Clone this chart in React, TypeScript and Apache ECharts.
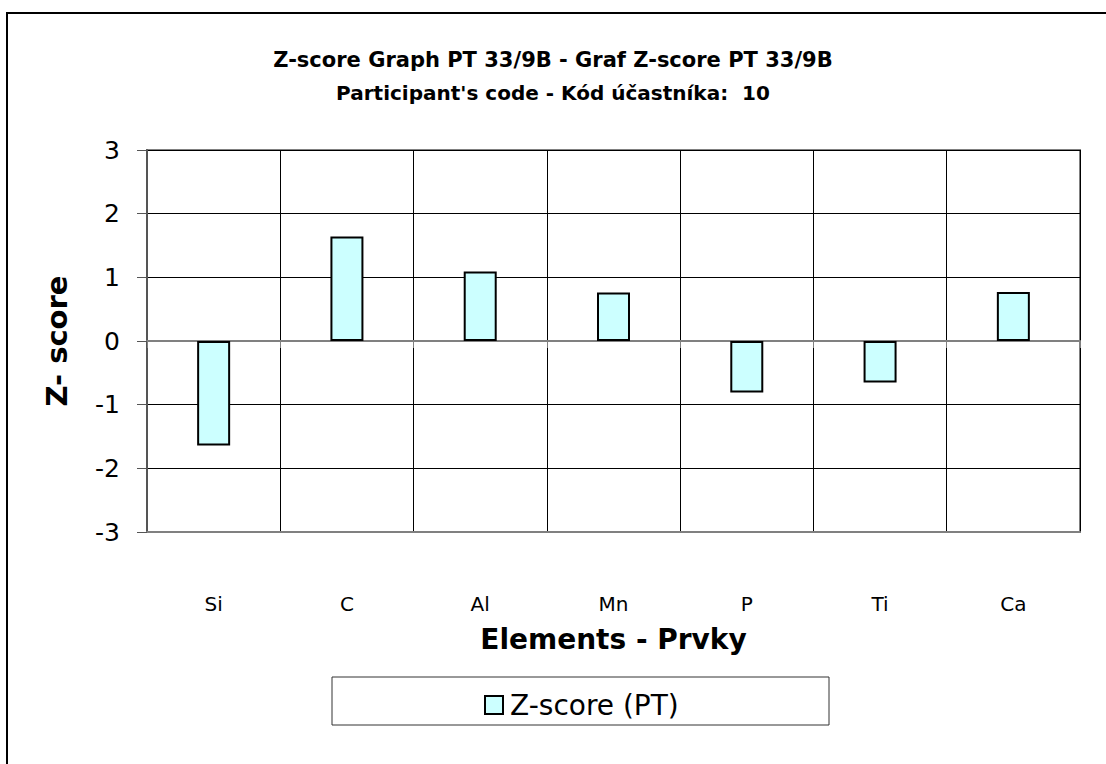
import React, { useEffect, useRef } from "react";
import * as echarts from "echarts";

const categories = ["Si", "C", "Al", "Mn", "P", "Ti", "Ca"];
const zScores = [-1.64, 1.64, 1.09, 0.76, -0.81, -0.65, 0.77];
const seriesName = "Z-score (PT)";
const titleLines = ["Z-score Graph PT 33/9B - Graf Z-score PT 33/9B", "Participant's code - Kód účastníka:  10"];
const yAxisTitle = "Z- score";
const xAxisTitle = "Elements - Prvky";

const FONT = "'DejaVu Sans', 'Liberation Sans', Arial, sans-serif";

export default function App() {
  const ref = useRef<HTMLDivElement>(null);
  useEffect(() => {
    if (!ref.current) return;
    const chart = echarts.init(ref.current, null, { renderer: "svg" });
    chart.setOption({
      animation: false,
      backgroundColor: "#ffffff",
      textStyle: { fontFamily: FONT },
      title: [
        {
          text: titleLines[0],
          left: "center",
          top: 49,
          padding: 0,
          textStyle: { fontSize: 21, fontWeight: "bold", color: "#000", fontFamily: FONT },
        },
        {
          text: titleLines[1],
          left: "center",
          top: 83,
          padding: 0,
          textStyle: { fontSize: 20, fontWeight: "bold", color: "#000", fontFamily: FONT },
        },
      ],
      grid: {
        left: 147,
        top: 150,
        width: 933,
        height: 382,
        show: true,
        borderColor: "#808080",
        borderWidth: 2,
        backgroundColor: "transparent",
      },
      legend: {
        left: 479,
        top: 686,
        itemWidth: 18,
        itemHeight: 18,
        itemGap: 6,
        icon: "rect",
        data: [seriesName],
        textStyle: { fontSize: 28, color: "#000", fontFamily: FONT, padding: [0, 0, 0, 2] },
      },
      xAxis: [
        {
          type: "category",
          data: categories,
          position: "bottom",
          axisLine: { onZero: false, show: true, lineStyle: { color: "#808080", width: 2 } },
          axisTick: { show: false },
          axisLabel: { margin: 62, fontSize: 20, color: "#000", fontFamily: FONT },
          splitLine: { show: true, lineStyle: { color: "#000", width: 1 } },
          name: xAxisTitle,
          nameLocation: "middle",
          nameGap: 93,
          nameTextStyle: { fontSize: 28, fontWeight: "bold", color: "#000", fontFamily: FONT },
        },
        {
          type: "category",
          data: categories,
          position: "bottom",
          axisLine: { onZero: true, onZeroAxisIndex: 0, show: true, lineStyle: { color: "#808080", width: 2 } },
          axisTick: { show: true, length: 7, lineStyle: { color: "#808080", width: 1 } },
          axisLabel: { show: false },
          splitLine: { show: false },
        },
      ],
      yAxis: {
        type: "value",
        min: -3,
        max: 3,
        interval: 1,
        axisLine: { show: true, lineStyle: { color: "#555", width: 2 } },
        axisTick: { show: true, length: 10, lineStyle: { color: "#555", width: 1 } },
        axisLabel: { margin: 27, fontSize: 25, color: "#000", fontFamily: FONT },
        splitLine: { show: true, lineStyle: { color: "#000", width: 1 } },
        name: yAxisTitle,
        nameLocation: "middle",
        nameGap: 76,
        nameTextStyle: { fontSize: 29, fontWeight: "bold", color: "#000", fontFamily: FONT },
      },
      series: [
        {
          name: seriesName,
          type: "bar",
          xAxisIndex: 0,
          data: zScores,
          barWidth: 33,
          itemStyle: { color: "#CCFFFF", borderColor: "#000", borderWidth: 2 },
        },
      ],
      graphic: [
        {
          type: "rect",
          shape: { x: 7, y: 13, width: 1300, height: 900 },
          style: { fill: "none", stroke: "#000", lineWidth: 2 },
          z: 10,
        },
        {
          type: "rect",
          shape: { x: 332, y: 677, width: 497, height: 48 },
          style: { fill: "none", stroke: "#333", lineWidth: 1 },
          z: 10,
        },
      ],
    });
    return () => chart.dispose();
  }, []);
  return (
    <div
      ref={ref}
      style={{ position: "fixed", left: 0, top: 0, width: 1106, height: 764, background: "#fff" }}
    />
  );
}
